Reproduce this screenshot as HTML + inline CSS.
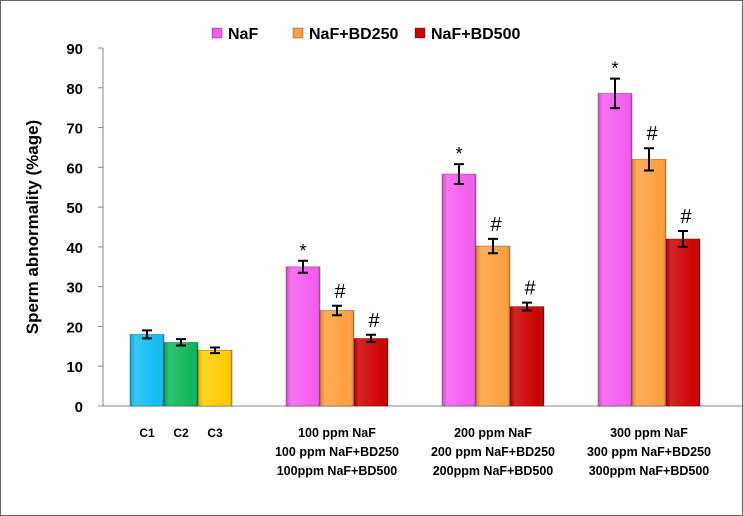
<!DOCTYPE html>
<html><head><meta charset="utf-8"><style>
body{margin:0;background:#fff}
svg{display:block;font-family:"Liberation Sans",sans-serif}
</style></head><body>
<svg id="chart" width="743" height="516" viewBox="0 0 743 516">
<defs>
<linearGradient id="sh" x1="0" x2="1"><stop offset="0" stop-color="#000" stop-opacity="0.15"/><stop offset="0.15" stop-color="#fff" stop-opacity="0.15"/><stop offset="0.85" stop-color="#fff" stop-opacity="0"/><stop offset="1" stop-color="#000" stop-opacity="0.2"/></linearGradient>
</defs>
<rect x="0.5" y="0.5" width="742" height="515" fill="#fff" stroke="#666"/>
<g id="plot"></g>
</svg>
<script>
const categories=["C","100","200","300"];
const controlNames=["C1","C2","C3"];
const controlValues=[18,16,14];
const controlErr=[1,0.8,0.7];
const seriesNames=["NaF","NaF+BD250","NaF+BD500"];
const nafValues=[35,58.3,78.6];
const nafErr=[1.5,2.5,3.7];
const bd250Values=[24,40.2,62];
const bd250Err=[1.2,1.8,2.8];
const bd500Values=[17,25,42];
const bd500Err=[0.9,1,2];
const yTicks=[0,10,20,30,40,50,60,70,80,90];
const xLabels=[["C1","C2","C3"],["100 ppm NaF","100 ppm NaF+BD250","100ppm NaF+BD500"],["200 ppm NaF","200 ppm NaF+BD250","200ppm NaF+BD500"],["300 ppm NaF","300 ppm NaF+BD250","300ppm NaF+BD500"]];
const ctrlColors=["#12bdf2","#0fb55a","#ffcc00"];
const serColors=["#f55cf0","#ffa040","#cc0000"];
const marks=["*","#","#"];

const NS="http://www.w3.org/2000/svg";
const g=document.getElementById('plot');
const X0=103,X1=742,Y0=406,Y1=48,YMAX=90,BW=34,CW=156;
const y=v=>Y0-(v/YMAX)*(Y0-Y1);
const cx=i=>X0+CW*i+78;
function el(t,a,p){const e=document.createElementNS(NS,t);for(const k in a)e.setAttribute(k,a[k]);(p||g).appendChild(e);return e;}
function txt(s,a){const e=el('text',a);e.textContent=s;return e;}
function bar(x,v,err,col,name,mark){
 const r=el('rect',{x:x,y:y(v),width:BW,height:Y0-y(v),fill:col,stroke:'rgba(0,0,0,0.3)'});
 
 
 el('rect',{x:x,y:y(v),width:BW,height:Y0-y(v),fill:'url(#sh)'});
 const m=x+BW/2;
 const eb=el('path',{d:`M${m} ${y(v+err)}V${y(v-err)}M${m-5} ${y(v+err)}H${m+5}M${m-5} ${y(v-err)}H${m+5}`,stroke:'#000','stroke-width':2,fill:'none'});
 
 
 if(mark){const t=txt(mark,{x:m+(mark=='*'?0:3),y:y(v+err)-(mark=='*'?4:8),'text-anchor':'middle','font-size':mark=='*'?18:20,fill:'#000'});
 
 }
}
el('line',{x1:X0,y1:Y1,x2:X0,y2:Y0,stroke:'#888'});
el('line',{x1:X0,y1:Y0,x2:X1,y2:Y0,stroke:'#888'});
yTicks.forEach(v=>{el('line',{x1:X0-5,y1:y(v),x2:X0,y2:y(v),stroke:'#888'});
 const t=txt(v,{x:X0-20,y:y(v)+6,'text-anchor':'end','font-size':15,'font-weight':'bold',fill:'#000'});
 
 });
const yl=txt('Sperm abnormality (%age)',{x:0,y:0,transform:'translate(38,227) rotate(-90)','text-anchor':'middle','font-size':17,'font-weight':'bold',fill:'#000'});


controlValues.forEach((v,i)=>bar(cx(0)-51+i*BW,v,controlErr[i],ctrlColors[i],'bar-'+controlNames[i].toLowerCase(),null));
const sv=[nafValues,bd250Values,bd500Values],se=[nafErr,bd250Err,bd500Err];
for(let c=1;c<categories.length;c++){
 for(let s=0;s<3;s++)bar(cx(c)-51+s*BW,sv[s][c-1],se[s][c-1],serColors[s],'bar-'+seriesNames[s].toLowerCase().replace('+','-')+'-'+categories[c],marks[s]);
}
const cl=xLabels[0];cl.forEach((s,i)=>{const t=txt(s,{x:cx(0)-34+i*BW,y:437,'text-anchor':'middle','font-size':12,'font-weight':'bold',fill:'#000'});
 
 });
for(let c=1;c<xLabels.length;c++)xLabels[c].forEach((s,j)=>{const t=txt(s,{x:cx(c),y:437+j*19,'text-anchor':'middle','font-size':12.5,'font-weight':'bold',fill:'#000'});
 
 });
const lx=[212,293,415];
seriesNames.forEach((n,i)=>{const r=el('rect',{x:lx[i],y:28,width:10,height:10,fill:serColors[i],stroke:'rgba(0,0,0,0.3)'});
 
 
 const t=txt(n,{x:lx[i]+16,y:39,'font-size':16,'font-weight':'bold',fill:'#000'});
 
 });
</script>
</body></html>
